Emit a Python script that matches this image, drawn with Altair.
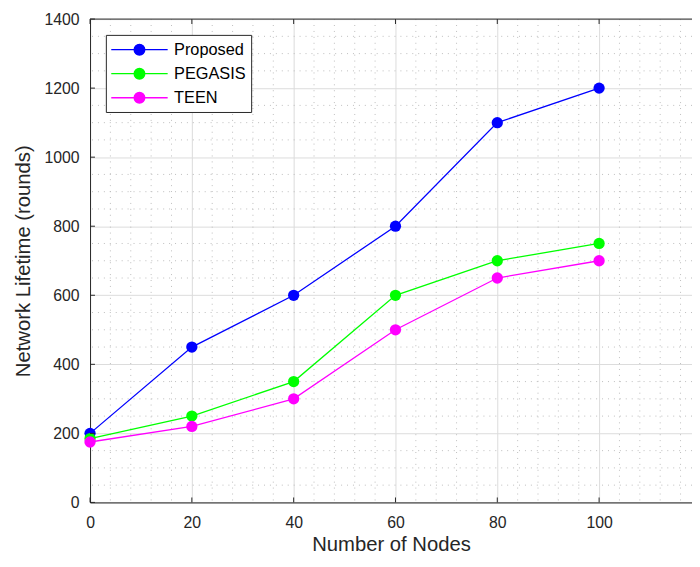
import altair as alt
import pandas as pd

# ---- data ----
nodes = [0, 20, 40, 60, 80, 100]
proposed = [200, 450, 600, 800, 1100, 1200]
pegasis = [185, 250, 350, 600, 700, 750]
teen = [175, 220, 300, 500, 650, 700]
series_names = ["Proposed", "PEGASIS", "TEEN"]
series_colors = ["#0000ff", "#00ff00", "#ff00ff"]

x_major = [0, 20, 40, 60, 80, 100]
y_major = [0, 200, 400, 600, 800, 1000, 1200, 1400]
x_minor = [4, 8, 12, 16, 24, 28, 32, 36, 44, 48, 52, 56, 64, 68, 72, 76,
           84, 88, 92, 96, 104, 108, 112, 116]
y_minor = [50, 100, 150, 250, 300, 350, 450, 500, 550, 650, 700, 750,
           850, 900, 950, 1050, 1100, 1150, 1250, 1300, 1350]

W, H = 609, 489
X_MAX = 118.25
FONT = "Liberation Sans"
TXT = "#262626"

rows = []
for name, vals in zip(series_names, [proposed, pegasis, teen]):
    for n, v in zip(nodes, vals):
        rows.append({"nodes": n, "life": v, "series": name})
df = pd.DataFrame(rows)

xs = alt.Scale(domain=[0, X_MAX], nice=False, zero=False)
ys = alt.Scale(domain=[0, 1400], nice=False, zero=False)

sym_path = "M-3.17,0H3.17M-0.6,0A0.6,0.6,0,1,0,0.6,0A0.6,0.6,0,1,0,-0.6,0"
legend = alt.Legend(
    title=None, orient="none", legendX=16, legendY=16,
    padding=5, rowPadding=5.3, symbolType=sym_path, symbolSize=324,
    symbolOffset=19, labelOffset=25, symbolStrokeWidth=1.3,
    labelFont=FONT, labelFontSize=16.5, labelColor="#000000",
    strokeColor="#262626", fillColor="#ffffff", cornerRadius=0,
    symbolOpacity=1,
)
color = alt.Color("series:N",
                  scale=alt.Scale(domain=series_names, range=series_colors),
                  legend=legend)

x_axis = alt.Axis(values=x_major, format="d", title="Number of Nodes", grid=True,
                  gridColor="#dcdcdc", gridWidth=1, ticks=False,
                  domainColor=TXT, domainWidth=1, labelFont=FONT,
                  labelFontSize=16, labelColor=TXT, labelPadding=12,
                  labelFlush=False, titleFont=FONT, titleFontSize=20.5,
                  titleFontWeight="normal", titleColor=TXT, titlePadding=5)
y_axis = alt.Axis(values=y_major, format="d", title="Network Lifetime (rounds)",
                  grid=True,
                  gridColor="#dcdcdc", gridWidth=1, ticks=False,
                  domainColor=TXT, domainWidth=1, labelFont=FONT,
                  labelFontSize=16, labelColor=TXT, labelPadding=11,
                  labelFlush=False, titleFont=FONT, titleFontSize=20.5,
                  titleFontWeight="normal", titleColor=TXT, titlePadding=10.5)


def X(f):
    return alt.X(f, scale=xs, axis=x_axis)


def Y(f):
    return alt.Y(f, scale=ys, axis=y_axis)


# minor dotted grid
xminor = alt.Chart(pd.DataFrame({"v": x_minor})).mark_rule(
    color="#bdbdbd", strokeWidth=1, strokeDash=[1, 5]
).encode(x=X("v:Q"))
yminor = alt.Chart(pd.DataFrame({"v": y_minor})).mark_rule(
    color="#bdbdbd", strokeWidth=1, strokeDash=[1, 5]
).encode(y=Y("v:Q"))

lines = alt.Chart(df).mark_line(strokeWidth=1.3).encode(
    x=X("nodes:Q"), y=Y("life:Q"), color=color,
)
points = alt.Chart(df).mark_point(filled=True, shape="circle", size=130,
                                  opacity=1).encode(
    x=X("nodes:Q"), y=Y("life:Q"), color=color,
)

# box top edge and inward ticks
top_edge = alt.Chart(pd.DataFrame({"a": [0]})).mark_rule(
    color=TXT, strokeWidth=1
).encode(x=alt.value(0), x2=alt.value(W), y=alt.value(0))
xt = pd.DataFrame({"v": x_major})
yt = pd.DataFrame({"v": y_major})
bot_ticks = alt.Chart(xt).mark_rule(color=TXT).encode(
    x=X("v:Q"), y=alt.value(H), y2=alt.value(H - 5))
top_ticks = alt.Chart(xt).mark_rule(color=TXT).encode(
    x=X("v:Q"), y=alt.value(0), y2=alt.value(5))
left_ticks = alt.Chart(yt).mark_rule(color=TXT).encode(
    y=Y("v:Q"), x=alt.value(0), x2=alt.value(5))

chart = alt.layer(
    xminor, yminor, lines, points, top_edge, bot_ticks, top_ticks, left_ticks
).properties(
    width=W, height=H,
    autosize=alt.AutoSizeParams(type="none"),
    padding={"left": 83, "top": 8, "right": 0, "bottom": 50},
    background="#ffffff",
).configure_view(stroke=None).configure(font=FONT)

chart.save("out.html", embed_options={"renderer": "svg", "actions": False})
